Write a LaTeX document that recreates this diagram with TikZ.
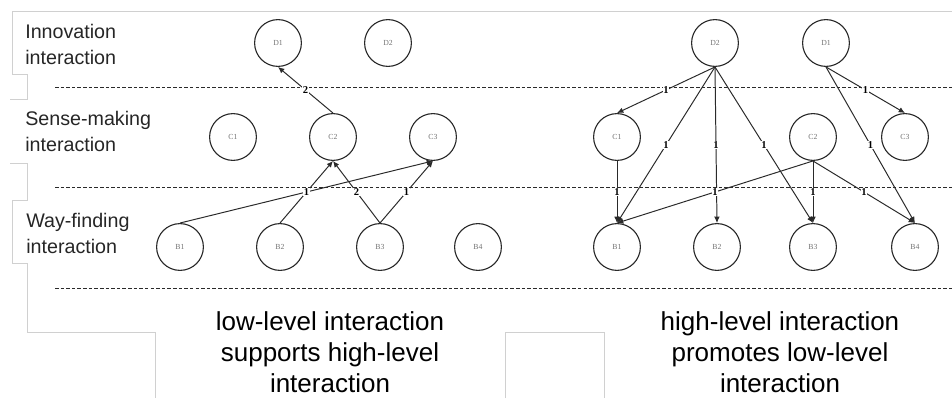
\documentclass[tikz,border=0pt]{standalone}
\usepackage{fontspec}
\setmainfont{Liberation Sans}
\newfontfamily\nodefont{Liberation Serif}
\usetikzlibrary{arrows.meta}
\definecolor{inkgray}{HTML}{2A2A2A}
\definecolor{framegray}{HTML}{D0D0D0}
\begin{document}
\begin{tikzpicture}[
    stage/.style={circle, draw=inkgray, line width=0.8pt, minimum size=1.17cm, inner sep=0pt,
        font=\nodefont\fontsize{5.5}{6}\selectfont, text=black!55},
    link/.style={draw=inkgray, line width=0.7pt, -{Latex[length=4.5pt,width=4pt]}},
    weight/.style={midway, fill=white, inner sep=0.3pt, font=\nodefont\bfseries\fontsize{7.5}{8}\selectfont},
    band/.style={draw=inkgray, line width=0.5pt, dash pattern=on 2.5pt off 1.5pt},
    level/.style={anchor=west, align=left, inner sep=0pt, font=\fontsize{14}{18.5}\selectfont, text=black!85},
    caption/.style={align=center, font=\fontsize{18.5}{22}\selectfont, text=black},
    frame/.style={draw=framegray, line width=0.5pt}
    ]
        \useasboundingbox (0, 0) rectangle (23.8, 9.95);

        \draw[frame] (23.8, 9.675) -- (0.3, 9.675) -- (0.3, 8.1) -- (0.675, 8.1) -- (0.675, 7.475) -- (0.25, 7.475);
        \draw[frame] (0.25, 5.875) -- (0.675, 5.875) -- (0.675, 4.95) -- (0.3, 4.95) -- (0.3, 3.375) -- (0.675, 3.375) -- (0.675, 1.65) -- (3.875, 1.65) -- (3.875, 0);
        \draw[frame] (12.625, 0) -- (12.625, 1.65) -- (15.1, 1.65) -- (15.1, 0);

        \draw[band] (1.375, 7.775) -- (23.8, 7.775);
        \draw[band] (1.375, 5.275) -- (23.8, 5.275);
        \draw[band] (1.375, 2.75) -- (23.8, 2.75);

        \node[level] (innov) at (0.625, 8.85) {Innovation\\interaction};
        \node[level] (sense) at (0.625, 6.675) {Sense-making\\interaction};
        \node[level] (way) at (0.65, 4.125) {Way-finding\\interaction};

        \node[stage] (ld1) at (6.95, 8.875) {D1};
        \node[stage] (ld2) at (9.7, 8.875) {D2};
        \node[stage] (lc1) at (5.825, 6.525) {C1};
        \node[stage] (lc2) at (8.325, 6.525) {C2};
        \node[stage] (lc3) at (10.825, 6.525) {C3};
        \node[stage] (lb1) at (4.5, 3.775) {B1};
        \node[stage] (lb2) at (7.0, 3.775) {B2};
        \node[stage] (lb3) at (9.5, 3.775) {B3};
        \node[stage] (lb4) at (11.95, 3.775) {B4};

        \node[stage] (rd2) at (17.875, 8.875) {D2};
        \node[stage] (rd1) at (20.65, 8.875) {D1};
        \node[stage] (rc1) at (15.425, 6.525) {C1};
        \node[stage] (rc2) at (20.325, 6.525) {C2};
        \node[stage] (rc3) at (22.625, 6.525) {C3};
        \node[stage] (rb1) at (15.425, 3.775) {B1};
        \node[stage] (rb2) at (17.925, 3.775) {B2};
        \node[stage] (rb3) at (20.325, 3.775) {B3};
        \node[stage] (rb4) at (22.875, 3.775) {B4};

        \draw[link] (lc2.north) -- node[weight] {2} (ld1.south);
        \draw[link] (lb1.north) -- node[weight] {1} (lc3.south);
        \draw[link] (lb2.north) -- node[weight] {1} (lc2.south);
        \draw[link] (lb3.north) -- node[weight] {2} (lc2.south);
        \draw[link] (lb3.north) -- node[weight] {1} (lc3.south);

        \draw[link] (rd2.south) -- node[weight] {1} (rc1.north);
        \draw[link] (rd2.south) -- node[weight] {1} (rb1.north);
        \draw[link] (rd2.south) -- node[weight] {1} (rb2.north);
        \draw[link] (rd2.south) -- node[weight] {1} (rb3.north);
        \draw[link] (rd1.south) -- node[weight] {1} (rc3.north);
        \draw[link] (rd1.south) -- node[weight] {1} (rb4.north);
        \draw[link] (rc1.south) -- node[weight] {1} (rb1.north);
        \draw[link] (rc2.south) -- node[weight] {1} (rb1.north);
        \draw[link] (rc2.south) -- node[weight] {1} (rb3.north);
        \draw[link] (rc2.south) -- node[weight] {1} (rb4.north);

        \node[caption] (lowcap) at (8.25, 1.15) {low-level interaction\\supports high-level\\interaction};
        \node[caption] (highcap) at (19.5, 1.15) {high-level interaction\\promotes low-level\\interaction};

    \end{tikzpicture}
\end{document}
